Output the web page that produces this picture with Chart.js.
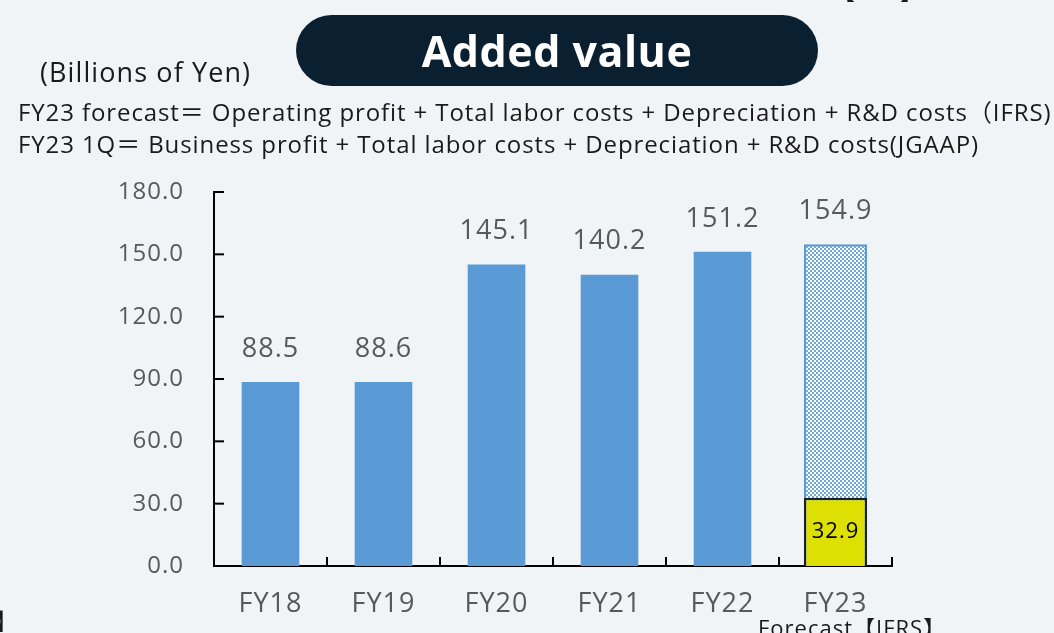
<!DOCTYPE html>
<html>
<head>
<meta charset="utf-8">
<script src="https://cdn.jsdelivr.net/npm/chart.js@4.4.1/dist/chart.umd.min.js"></script>
<style>
  html, body { margin:0; padding:0; background:#F0F4F6; overflow:hidden; }
  body { width:1054px; height:633px; position:relative; font-family:'Open Sans','Noto Sans CJK JP',sans-serif; }
  #wrap { position:absolute; left:0; top:0; width:1054px; height:633px; }
  .t { position:absolute; white-space:nowrap; color:#1a1a1a; }
  #pill { position:absolute; left:296px; top:15px; width:522px; height:71px; background:#0A1F30; border-radius:36px; }
  #title { position:absolute; left:296px; top:15px; width:522px; height:71px; line-height:71px; text-align:center; color:#fff; font-weight:700; font-size:43px; letter-spacing:0.5px; }
</style>
</head>
<body>
<div id="wrap"><canvas id="c" width="1054" height="633"></canvas></div>
<div id="pill"></div>
<div id="title">Added value</div>
<div class="t" style="left:40px; top:53px; font-size:27px; letter-spacing:1.1px;">(Billions of Yen)</div>
<div class="t" style="left:18px; top:93px; font-size:24px; letter-spacing:0.9px;">FY23 forecast＝ Operating profit + Total labor costs + Depreciation + R&amp;D costs（IFRS)</div>
<div class="t" style="left:18px; top:125px; font-size:24px; letter-spacing:0.9px;">FY23 1Q＝ Business profit + Total labor costs + Depreciation + R&amp;D costs(JGAAP)</div>
<div class="t" style="left:832px; top:-27px; font-size:23px;">【IFRS】</div>
<div class="t" style="right:1036px; top:603px; font-size:23px;">【IFRS】</div>
<div class="t" style="left:758px; top:610px; font-size:22px; letter-spacing:1px;">Forecast【IFRS】</div>
<script>
const categories = ['FY18', 'FY19', 'FY20', 'FY21', 'FY22', 'FY23'];
const actualValues = [88.5, 88.6, 145.1, 140.2, 151.2, null];
const forecastValues = [null, null, null, null, null, 154.9];
const q1Values = [null, null, null, null, null, 32.9];
const yMin = 0, yMax = 180, yStep = 30;

function makePattern() {
  const c = document.createElement('canvas');
  c.width = 4; c.height = 4;
  const g = c.getContext('2d');
  g.fillStyle = '#ffffff'; g.fillRect(0, 0, 4, 4);
  g.fillStyle = '#6FA5D9'; g.fillRect(0, 0, 2, 2); g.fillRect(2, 2, 2, 2);
  return g.createPattern(c, 'repeat');
}

const spacingPlugin = {
  id: 'spacing',
  beforeDraw(chart) { chart.ctx.letterSpacing = '1px'; }
};

const labelPlugin = {
  id: 'labels',
  afterDatasetsDraw(chart) {
    const ctx = chart.ctx;
    ctx.save();
    chart.data.datasets.forEach((ds, di) => {
      const meta = chart.getDatasetMeta(di);
      meta.data.forEach((bar, i) => {
        const v = ds.data[i];
        if (v == null) return;
        ctx.textAlign = 'center';
        ctx.textBaseline = 'middle';
        if (ds.labelInside) {
          ctx.fillStyle = '#000';
          ctx.font = "22px 'Open Sans', sans-serif";
          ctx.fillText(v.toFixed(1), bar.x, (bar.y + bar.base) / 2);
        } else {
          ctx.fillStyle = '#595959';
          ctx.font = "27px 'Open Sans', sans-serif";
          ctx.fillText(v.toFixed(1), bar.x, bar.y - 33);
        }
      });
    });
    ctx.restore();
  }
};

const tickPlugin = {
  id: 'inTicks',
  afterDraw(chart) {
    const ctx = chart.ctx;
    const ys = chart.scales.y, xs = chart.scales.x;
    ctx.save();
    ctx.strokeStyle = '#000';
    ctx.lineWidth = 2;
    ys.ticks.forEach(t => {
      const y = ys.getPixelForValue(t.value);
      ctx.beginPath(); ctx.moveTo(ys.right, y); ctx.lineTo(ys.right + 10, y); ctx.stroke();
    });
    const n = categories.length;
    for (let i = 0; i <= n; i++) {
      let x;
      if (i === 0) x = xs.left;
      else if (i === n) x = xs.right;
      else x = (xs.getPixelForValue(i - 1) + xs.getPixelForValue(i)) / 2;
      ctx.beginPath(); ctx.moveTo(x, xs.top); ctx.lineTo(x, xs.top - 9); ctx.stroke();
    }
    ctx.restore();
  }
};

new Chart(document.getElementById('c'), {
  type: 'bar',
  data: {
    labels: categories,
    datasets: [
      { label: '1Q', data: q1Values, backgroundColor: '#DDE000', borderColor: '#17222C', borderWidth: 2.5, grouped: false, barPercentage: 0.56, categoryPercentage: 1, labelInside: true, order: 0 },
      { label: 'Forecast', data: forecastValues, backgroundColor: makePattern(), borderColor: '#5B9BD5', borderWidth: 2.5, grouped: false, barPercentage: 0.56, categoryPercentage: 1, order: 1 },
      { label: 'Actual', data: actualValues, backgroundColor: '#5B9BD5', borderWidth: 0, grouped: false, barPercentage: 0.51, categoryPercentage: 1, order: 2 }
    ]
  },
  options: {
    responsive: false,
    animation: false,
    events: [],
    layout: { padding: { left: 0, right: 162, top: 192, bottom: 0 } },
    plugins: { legend: { display: false }, tooltip: { enabled: false } },
    scales: {
      x: {
        grid: { display: false, drawTicks: false },
        border: { display: true, color: '#000', width: 2 },
        ticks: { color: '#595959', font: { family: "'Open Sans', sans-serif", size: 27 }, padding: 22 },
        afterFit(s) { s.height = 67; }
      },
      y: {
        min: yMin, max: yMax,
        grid: { display: false, drawTicks: false },
        border: { display: true, color: '#000', width: 2 },
        ticks: { stepSize: yStep, color: '#595959', font: { family: "'Open Sans', sans-serif", size: 24 }, padding: 30, callback: v => Number(v).toFixed(1) },
        afterFit(s) { s.width = 214; }
      }
    }
  },
  plugins: [spacingPlugin, labelPlugin, tickPlugin]
});
</script>
</body>
</html>
